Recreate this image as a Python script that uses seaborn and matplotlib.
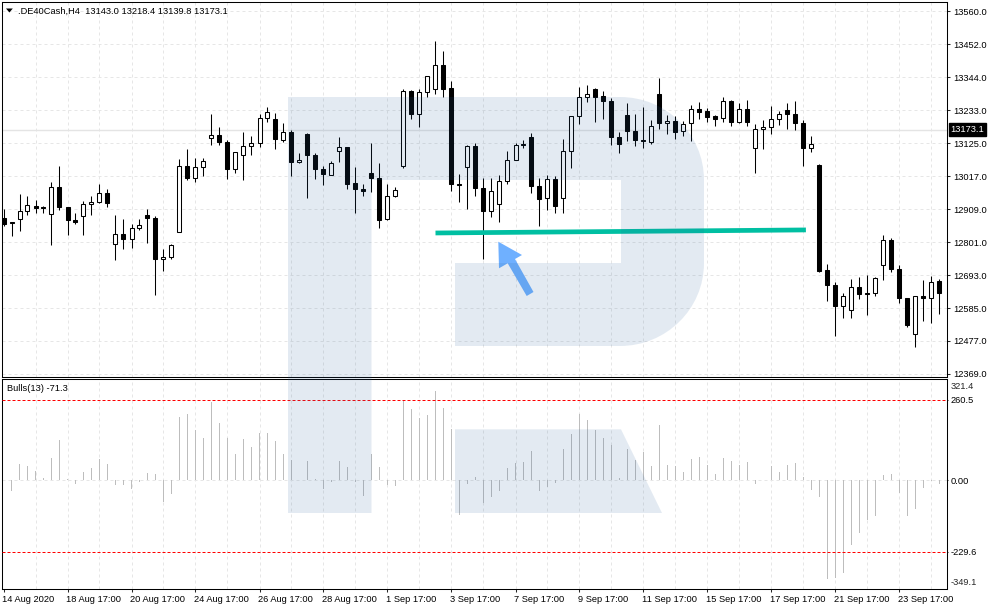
import numpy as np
import pandas as pd
import seaborn as sns
import matplotlib
matplotlib.use("Agg")
import matplotlib.pyplot as plt
from matplotlib.patches import PathPatch, Polygon
from matplotlib.path import Path
from matplotlib.transforms import Affine2D, ScaledTranslation

opens = [
    12883, 12871, 12880, 12906, 12923, 12919, 12896, 12985, 12919, 12878,
    12890, 12929, 12936, 12965, 12798, 12831, 12815, 12850, 12893, 12883,
    12748, 12755, 12838, 13054, 13013, 13050, 13145, 13155, 13132, 13044,
    13090, 13119, 13129, 13211, 13207, 13139, 13165, 13066, 13159, 13091,
    13044, 13025, 13104, 13116, 12997, 12979, 13030, 13014, 12880, 12955,
    13053, 13299, 13223, 13295, 13305, 13384, 13308, 12995, 13050, 13119,
    12981, 12906, 12929, 13004, 13073, 13126, 13149, 12988, 12948, 13011,
    12948, 13102, 13217, 13281, 13305, 13282, 13266, 13148, 13220, 13167,
    13138, 13131, 13289, 13194, 13200, 13167, 13194, 13239, 13233, 13218,
    13210, 13266, 13199, 13239, 13114, 13174, 13181, 13207, 13236, 13223,
    13194, 13111, 13057, 12713, 12664, 12595, 12582, 12657, 12637, 12637,
    12729, 12811, 12716, 12621, 12502, 12628, 12621, 12677,
]
highs = [
    12911, 12871, 12963, 12956, 12943, 12924, 13000, 13055, 12919, 12898,
    12940, 12956, 12996, 12979, 12894, 12881, 12862, 12881, 12913, 12891,
    12783, 12798, 13078, 13110, 13081, 13081, 13225, 13182, 13140, 13099,
    13166, 13153, 13225, 13248, 13228, 13195, 13173, 13096, 13162, 13096,
    13055, 13070, 13149, 13116, 13051, 12995, 13129, 13063, 12995, 12984,
    13305, 13302, 13307, 13350, 13462, 13429, 13332, 13028, 13122, 13129,
    13014, 13014, 13025, 13103, 13129, 13138, 13161, 13015, 13025, 13022,
    13143, 13216, 13313, 13318, 13310, 13300, 13275, 13164, 13260, 13224,
    13247, 13205, 13341, 13221, 13218, 13200, 13253, 13263, 13244, 13222,
    13279, 13270, 13259, 13269, 13190, 13205, 13250, 13234, 13260, 13266,
    13204, 13152, 13059, 12733, 12674, 12637, 12684, 12691, 12697, 12690,
    12828, 12818, 12729, 12621, 12628, 12681, 12693, 12683,
]
lows = [
    12856, 12823, 12840, 12894, 12899, 12900, 12796, 12908, 12829, 12862,
    12826, 12894, 12933, 12918, 12747, 12780, 12786, 12845, 12801, 12630,
    12709, 12748, 12837, 13007, 13002, 13020, 13121, 13121, 13010, 13030,
    13007, 13088, 13115, 13197, 13108, 13131, 13020, 13062, 12948, 13010,
    12990, 13023, 13065, 12977, 12901, 12956, 12967, 12849, 12875, 12951,
    13046, 13206, 13180, 13281, 13288, 13281, 12973, 12934, 12911, 12954,
    12748, 12885, 12869, 12993, 13072, 13111, 12964, 12856, 12908, 12898,
    12898, 13046, 13192, 13262, 13199, 13206, 13121, 13095, 13137, 13119,
    13111, 13126, 13176, 13157, 13143, 13153, 13134, 13209, 13199, 13183,
    13199, 13183, 13196, 13183, 13032, 13108, 13157, 13189, 13176, 13170,
    13055, 13098, 12707, 12610, 12498, 12554, 12554, 12617, 12564, 12629,
    12679, 12705, 12603, 12525, 12459, 12545, 12538, 12567,
]
closes = [
    12865, 12867, 12906, 12926, 12915, 12915, 12985, 12919, 12877, 12869,
    12929, 12936, 12965, 12931, 12831, 12814, 12851, 12861, 12882, 12748,
    12756, 12795, 13054, 13013, 13050, 13070, 13155, 13131, 13043, 13099,
    13119, 13129, 13211, 13230, 13141, 13165, 13066, 13073, 13088, 13043,
    13026, 13063, 13115, 12996, 12977, 12970, 13013, 12875, 12955, 12975,
    13299, 13223, 13295, 13350, 13384, 13307, 12993, 12990, 13119, 12980,
    12905, 12970, 13003, 13073, 13121, 13121, 12987, 12947, 13011, 12924,
    13102, 13216, 13279, 13288, 13281, 13265, 13148, 13124, 13167, 13138,
    13134, 13183, 13194, 13200, 13166, 13190, 13239, 13232, 13215, 13209,
    13266, 13199, 13239, 13199, 13174, 13181, 13207, 13223, 13223, 13193,
    13111, 13125, 12709, 12662, 12594, 12628, 12657, 12633, 12633, 12686,
    12811, 12715, 12620, 12531, 12628, 12620, 12673, 12636,
]
bulls = [
    0, -34, 53, 46, 31, 9, 72, 130, 4, -12,
    27, 40, 70, 53, -15, -15, -29, -4, 24, 20,
    -70, -44, 204, 214, 162, 137, 253, 185, 137, 85,
    133, 108, 153, 153, 127, 85, 66, 2, 62, 4,
    -28, -4, 62, 43, -4, -49, 85, 43, -15, -18,
    259, 230, 201, 211, 288, 233, 166, -112, -12, 11,
    -73, -54, -34, 40, 56, 59, 95, -34, -21, -9,
    101, 149, 214, 195, 162, 137, 114, 8, 101, 66,
    91, 46, 178, 49, 47, 27, 69, 75, 51, 20,
    72, 62, 51, 59, -12, 1, 46, 27, 49, 56,
    11, -31, -54, -318, -315, -299, -209, -170, -128, -115,
    17, 20, -41, -115, -92, -25, -2, -10,
]

date_labels = [
    "14 Aug 2020", "18 Aug 17:00", "20 Aug 17:00", "24 Aug 17:00", "26 Aug 17:00",
    "28 Aug 17:00", "1 Sep 17:00", "3 Sep 17:00", "7 Sep 17:00", "9 Sep 17:00",
    "11 Sep 17:00", "15 Sep 17:00", "17 Sep 17:00", "21 Sep 17:00", "23 Sep 17:00",
]
price_ticks = [13560, 13452, 13344, 13236, 13128, 13020, 12912, 12804, 12696, 12588, 12480, 12372]
price_labels = [
    "13560.0", "13452.0", "13344.0", "13233.0", "13125.0", "13017.0",
    "12909.0", "12801.0", "12693.0", "12585.0", "12477.0", "12369.0",
]
bulls_ticks = [260.5, 0.0, -229.6]
bulls_labels = ["260.5", "0.00", "-229.6"]
last_price = 13173.1
support_bars = [54.0, 100.3]
support_prices = [12834, 12844]

WIDTH, HEIGHT = 993, 610
GRID = "#e6e6e6"
FONT_SIZE = 6.7
LEFT, RIGHT = 2.0, 947.5

sns.set_theme(style="white", rc={"axes.linewidth": 0.75, "axes.edgecolor": "black"})
plt.rcParams["font.family"] = ["Liberation Sans", "DejaVu Sans"]


def panel(fig, top, bottom):
    """Axes placed from pixel rows, the way the terminal lays them out."""
    return fig.add_axes([LEFT / WIDTH, 1 - bottom / HEIGHT, (RIGHT - LEFT) / WIDTH, (bottom - top) / HEIGHT])


def setup_time_axis(ax):
    ax.set_xlim(-0.1875, 118)
    ax.set_xticks(np.arange(0, 118, 8))
    ax.set_xticks(np.arange(4, 118, 8), minor=True)
    ax.grid(True, axis="x", which="both", color=GRID, lw=0.72, ls=(0, (3, 3)))
    ax.xaxis.get_major_ticks()[0].gridline.set_visible(False)
    ax.set_axisbelow(True)
    ax.set_xlabel("")
    ax.set_ylabel("")


def draw_candles(ax, df):
    ax.vlines(df["bar"], df["low"], df["high"], color="black", lw=0.75, zorder=2)
    body_low = df[["open", "close"]].min(axis=1)
    body_size = (df["close"] - df["open"]).abs()
    colors = np.where(df["close"] >= df["open"], "white", "black")
    ax.bar(df["bar"], body_size, bottom=body_low, width=0.5, color=colors,
           edgecolor="black", linewidth=0.75, zorder=3)


def setup_price_axis(ax):
    setup_time_axis(ax)
    ax.set_ylim(12362, 13591)
    ax.set_yticks(price_ticks)
    ax.set_yticklabels(price_labels, fontsize=FONT_SIZE, color="black")
    ax.yaxis.tick_right()
    ax.tick_params(axis="y", which="major", right=True, length=2.2, width=0.75, pad=1.8)
    ax.tick_params(axis="x", which="both", bottom=False, labelbottom=False)
    ax.grid(True, axis="y", color=GRID, lw=0.72, ls=(0, (3, 3)))
    ax.axhline(last_price, color="#e4e4e4", lw=1.0, zorder=1)
    ax.text(1.0032, last_price, "13173.1", transform=ax.get_yaxis_transform(), fontsize=FONT_SIZE,
            color="white", va="center", ha="left", clip_on=False, zorder=6,
            bbox=dict(facecolor="black", edgecolor="black", pad=1.3))
    ax.text(18.3 / WIDTH, 1 - 11 / HEIGHT, ".DE40Cash,H4  13143.0 13218.4 13139.8 13173.1",
            transform=ax.figure.transFigure, fontsize=FONT_SIZE, va="center", color="black")


def setup_bulls_axis(ax):
    setup_time_axis(ax)
    ax.set_ylim(-350, 327)
    ax.set_yticks(bulls_ticks)
    ax.set_yticklabels(bulls_labels, fontsize=FONT_SIZE, color="black")
    ax.yaxis.tick_right()
    ax.tick_params(axis="y", right=True, length=1.0, width=0.75, pad=1.2)
    ax.set_xticklabels(date_labels, fontsize=FONT_SIZE, color="black", ha="left")
    ax.tick_params(axis="x", which="major", bottom=True, length=2.2, width=0.75, pad=2.2)
    ax.tick_params(axis="x", which="minor", bottom=False)
    shift = ScaledTranslation(-1.5 / 100, 0, ax.figure.dpi_scale_trans)
    for label in ax.get_xticklabels():
        label.set_transform(label.get_transform() + shift)
    ax.axhline(0, color=GRID, lw=0.72, ls=(0, (3, 3)), zorder=0)
    for level in bulls_ticks:
        if level != 0:
            ax.axhline(level, color="#ff0000", lw=0.72, ls=(0, (3, 2)), zorder=4)
    for value, y in ((321.4, 0.9657), (-349.1, 0.0324)):
        ax.text(1.0034, y, str(value), transform=ax.transAxes, fontsize=FONT_SIZE,
                va="center", ha="left", clip_on=False)
    ax.text(6.7 / WIDTH, 1 - 388.7 / HEIGHT, "Bulls(13) -71.3", transform=ax.figure.transFigure,
            fontsize=FONT_SIZE, va="center", color="black")


def add_overlays(fig, ax_main):
    # pixel space, y going down, same as the screenshot
    pixels = Affine2D().scale(1 / WIDTH, -1 / HEIGHT).translate(0, 1) + fig.transFigure

    ax_main.plot(support_bars, support_prices, color="#00bfa2", lw=3.4, solid_capstyle="butt", zorder=5)

    arrow = Polygon([(498.3, 241.7), (522, 255), (515, 259), (533.5, 292), (526.7, 296),
                     (507.7, 263.3), (499, 268.3)], closed=True, facecolor="#6fb0ff",
                    edgecolor="none", transform=pixels, zorder=5)
    fig.add_artist(arrow)

    marker = Polygon([(6, 8.5), (12.8, 8.5), (9.4, 12.5)], closed=True, facecolor="black",
                     edgecolor="none", transform=pixels, zorder=5)
    fig.add_artist(marker)

    # watermark goes on top of everything, candles show through tinted
    k = 0.5523 * 83.5
    verts = [(288, 97), (620, 97), (620 + k, 97), (704, 180 - k), (704, 180), (704, 263),
             (704, 263 + k), (620 + k, 346), (620, 346), (455, 346), (455, 263), (621, 263),
             (621, 180), (371.5, 180), (371.5, 513), (288, 513), (288, 97),
             (455, 429.3), (621, 429.3), (662, 513), (455, 513), (455, 429.3)]
    codes = [Path.MOVETO, Path.LINETO, Path.CURVE4, Path.CURVE4, Path.CURVE4, Path.LINETO,
             Path.CURVE4, Path.CURVE4, Path.CURVE4, Path.LINETO, Path.LINETO, Path.LINETO,
             Path.LINETO, Path.LINETO, Path.LINETO, Path.LINETO, Path.CLOSEPOLY,
             Path.MOVETO, Path.LINETO, Path.LINETO, Path.LINETO, Path.CLOSEPOLY]
    logo = PathPatch(Path(verts, codes), facecolor="#2e64a0", edgecolor="none", alpha=0.13,
                     transform=pixels, zorder=10)
    fig.add_artist(logo)


def main():
    candles = pd.DataFrame({"bar": np.arange(len(opens)), "open": opens, "high": highs,
                            "low": lows, "close": closes})
    indicator = pd.DataFrame({"bar": np.arange(len(bulls)), "bulls": bulls})

    fig = plt.figure(figsize=(WIDTH / 100, HEIGHT / 100), dpi=100, facecolor="white")
    ax_main = panel(fig, 2.0, 377.0)
    ax_bulls = panel(fig, 379.0, 589.0)

    draw_candles(ax_main, candles)
    setup_price_axis(ax_main)

    sns.barplot(data=indicator, x="bar", y="bulls", native_scale=True, width=0.125, color="#bdbdbd",
                saturation=1, errorbar=None, linewidth=0, ax=ax_bulls, zorder=2)
    setup_bulls_axis(ax_bulls)

    add_overlays(fig, ax_main)
    fig.savefig("out.png", dpi=100, facecolor="white")


if __name__ == "__main__":
    main()
